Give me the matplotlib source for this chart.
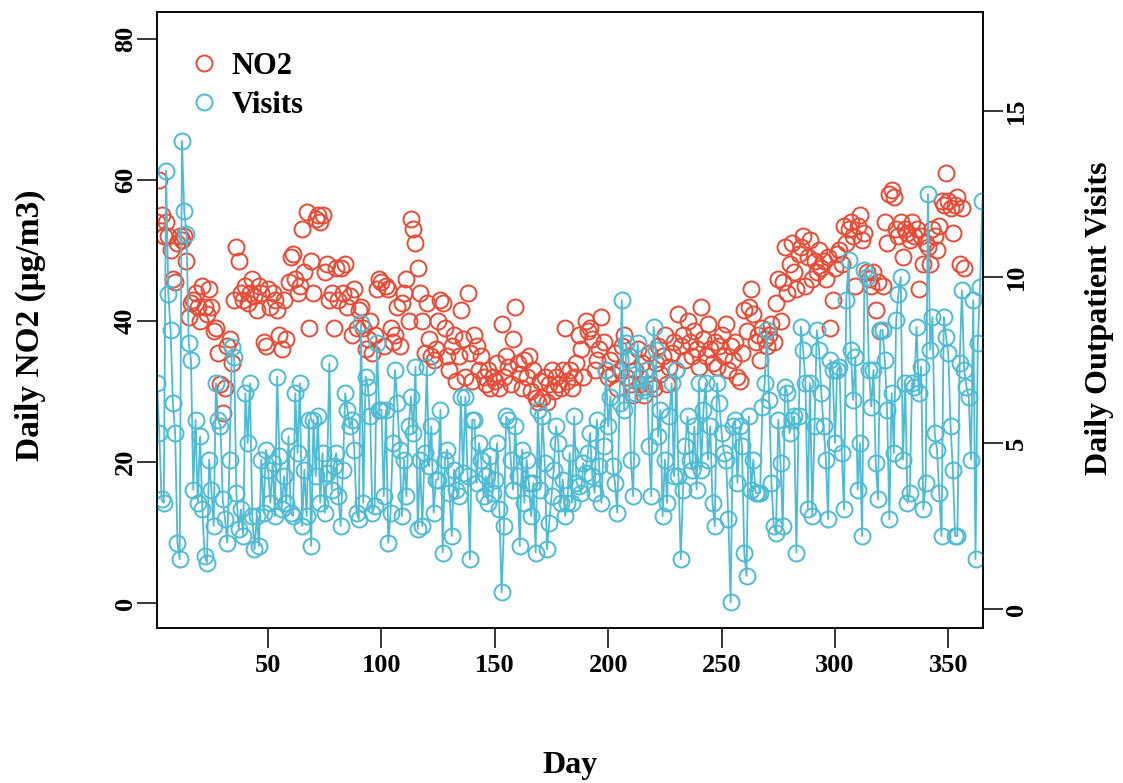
import numpy as np
import matplotlib
matplotlib.use("Agg")
import matplotlib.pyplot as plt
from matplotlib.lines import Line2D

nan = np.nan
days = np.arange(1, 366)

# daily NO2 (ug/m3); last days have no value shown
no2 = [
    54, 60, 55, 52, 54, 52, 50, 46, 45.5, 51,
    52, 51.5, 52, 48.5, 40.5, 42.5, 43, 44, 42, 40,
    45, 42, 41, 44.5, 42, 38.5, 39, 35.5, 31, 27,
    30.5, 36.5, 37.5, 34, 43, 50.5, 48.5, 44, 43, 45,
    42.5, 44, 46, 43.5, 41.5, 45, 44, 37, 36.5, 44.5,
    42, 44, 43, 41.5, 38, 36, 43, 37.5, 45.5, 49,
    49.5, 46, 44, 45, 53, 47, 55.5, 39, 48.5, 44,
    54.5, 55, 54, 55, 47, 48, 43, 44, 39, 47.5,
    43, 47.5, 44, 48, 42, 43.5, 38, 44.5, 39, 41.5,
    42, 39, 36, 37.5, 40, 35.5, 38, 44.5, 46, 45.5,
    36.5, 45, 44.5, 39, 37, 38, 42, 36.5, 42.5, 44,
    46, 40, 54.5, 53, 51, 47.5, 44, 40, 35.5, 42.5,
    37.5, 35, 34.5, 36, 40, 43, 42.5, 39, 35, 33,
    36.5, 38, 31.5, 35, 41.5, 37.5, 32, 44, 35.5, 31.5,
    38, 36.5, 33, 35, 32, 31, 33, 30.5, 32, 31.5,
    34, 30.5, 39.5, 32, 35, 33.5, 31, 37.5, 42, 34,
    32.5, 30.5, 34.5, 32, 35, 30, 33, 29, 28.5, 31.5,
    29, 32, 28.5, 31, 33, 30, 32, 31, 30.5, 33,
    39, 31.5, 33, 30.5, 32, 34, 38, 36, 32, 40,
    38.5, 39, 37.5, 33, 34.5, 36, 40.5, 37, 33, 32,
    34.5, 32.5, 35.5, 30.5, 33, 36.5, 38, 32, 35, 31,
    29.5, 33, 36, 31, 34, 29.5, 33, 35.5, 31, 30.5,
    34, 36.5, 32.5, 35, 38, 31, 33.5, 35.5, 37, 33,
    41, 36.5, 38, 34.5, 40, 37, 35, 38.5, 36, 33.5,
    42, 37.5, 35, 39.5, 36, 34, 37, 33.5, 36.5, 38,
    35, 39.5, 33, 36.5, 34.5, 37, 32, 31.5, 35.5, 41.5,
    38.5, 42, 44.5, 41, 37, 38, 34.5, 39, 37.5, 36.5,
    38, 39.5, 37, 42.5, 46, 40, 45.5, 50.5, 44, 48,
    51, 47, 44.5, 49.5, 50.5, 52, 45, 49, 51.5, 46,
    48.5, 47, 50, 47.5, 48.5, 46, 49, 39, 43, 47.5,
    49.5, 50, 48, 53.5, 51, 53, 54, 52, 45, 53.5,
    55, 51.5, 52.5, 47, 46, 45, 47, 41.5, 45.5, 38.5,
    45, 54, 51, 58, 58.5, 57.5, 53, 52, 54, 49,
    53, 52.5, 51.5, 54, 52, 53, 44.5, 52, 48, 51,
    50.5, 48, 53, 52, 50, 53.5, 57, 56.5, 61, 57,
    56, 52.5, 56.5, 57.5, 48, 56, 47.5, nan, nan, nan,
    nan, nan, nan, nan, nan,
]

# daily outpatient visits (right axis)
visits = [
    6.8, 5.3, 3.3, 3.2, 13.2, 9.5, 8.4, 6.2, 5.3, 2.0,
    1.5, 14.1, 12.0, 11.3, 8.0, 7.5, 3.6, 5.7, 3.2, 5.2,
    3.0, 1.6, 1.4, 4.5, 3.6, 2.5, 6.8, 5.7, 5.5, 3.3,
    2.7, 2.0, 4.5, 7.9, 7.6, 3.5, 2.4, 3.0, 2.2, 6.5,
    5.0, 6.8, 2.8, 1.8, 2.8, 1.9, 4.5, 2.9, 4.8, 4.2,
    3.2, 4.4, 2.8, 7.0, 4.6, 3.0, 4.0, 3.2, 5.2, 2.9,
    2.8, 6.5, 4.7, 6.8, 2.5, 4.2, 2.8, 5.7, 1.9, 5.7,
    4.0, 5.8, 3.2, 4.7, 2.9, 4.1, 7.4, 3.6, 4.3, 4.7,
    3.4, 2.5, 4.2, 6.5, 6.0, 5.5, 5.7, 4.8, 2.9, 2.7,
    8.6, 3.2, 7.0, 6.7, 5.8, 2.9, 3.1, 8.0, 6.0, 6.0,
    3.4, 6.0, 2.0, 2.9, 5.0, 7.2, 6.2, 4.8, 2.8, 4.5,
    3.4, 5.5, 6.4, 5.3, 7.3, 2.4, 4.5, 2.5, 4.7, 7.3,
    4.3, 5.5, 2.9, 3.9, 3.9, 6.0, 1.7, 4.5, 4.8, 3.5,
    2.2, 4.2, 3.6, 3.4, 6.4, 4.1, 6.4, 4.0, 1.5, 5.7,
    5.7, 3.8, 5.0, 4.5, 3.4, 4.0, 3.2, 4.6, 3.5, 3.9,
    5.0, 3.0, 0.5, 2.5, 5.8, 5.7, 4.5, 3.6, 5.5, 4.0,
    1.9, 4.8, 3.2, 4.5, 3.8, 2.8, 3.8, 1.7, 6.0, 3.6,
    5.8, 4.4, 1.8, 2.6, 3.4, 4.2, 5.5, 5.0, 3.2, 3.9,
    2.8, 3.2, 4.7, 3.2, 5.8, 3.8, 3.7, 3.5, 4.4, 4.1,
    4.7, 5.3, 4.0, 3.5, 5.7, 4.3, 3.2, 4.9, 7.2, 5.5,
    6.4, 4.3, 3.8, 2.9, 6.2, 9.3, 6.0, 8.0, 7.5, 4.5,
    3.4, 6.5, 8.0, 7.0, 6.7, 6.6, 7.2, 4.9, 3.4, 8.5,
    7.8, 5.2, 6.0, 2.8, 4.5, 3.2, 5.8, 6.8, 4.0, 7.2,
    4.0, 1.5, 3.6, 4.9, 5.8, 4.5, 4.2, 5.5, 3.6, 6.8,
    4.2, 6.0, 6.8, 4.5, 5.5, 3.2, 2.5, 6.8, 6.2, 5.3,
    4.7, 4.5, 2.7, 0.2, 5.5, 5.7, 3.8, 5.5, 4.9, 1.7,
    1.0, 5.8, 3.6, 4.5, 3.5, 3.5, 3.5, 6.1, 6.8, 8.4,
    6.3, 3.8, 2.5, 2.3, 5.7, 4.4, 2.5, 6.7, 6.5, 5.3,
    5.7, 5.8, 1.7, 5.8, 8.5, 7.8, 6.8, 3.0, 6.8, 2.8,
    5.5, 8.4, 7.8, 6.5, 5.5, 4.5, 2.7, 7.5, 7.2, 5.0,
    7.2, 7.3, 4.7, 3.0, 9.3, 10.5, 7.8, 6.3, 7.6, 3.6,
    5.0, 2.2, 10.2, 10.0, 7.2, 6.1, 7.2, 4.4, 3.3, 8.4,
    8.4, 7.5, 6.0, 2.7, 6.5, 4.7, 8.7, 9.5, 10.0, 4.5,
    6.8, 3.2, 3.5, 6.8, 6.7, 8.5, 6.5, 7.3, 3.0, 3.8,
    12.5, 7.8, 8.8, 5.3, 4.8, 3.5, 2.2, 8.8, 8.2, 7.7,
    5.5, 4.2, 2.2, 2.2, 7.4, 9.6, 7.2, 6.7, 6.4, 4.5,
    9.3, 1.5, 8.0, 9.7, 12.3,
]

red = "#E64B35"
blue = "#4DBBD5"

plt.rcParams['font.family'] = ['Liberation Serif', 'DejaVu Serif']
plt.rcParams['font.weight'] = 'bold'

fig = plt.figure(figsize=(11.23, 7.83), dpi=100)
ax = fig.add_axes([157 / 1123, 1 - 628 / 783, 826 / 1123, 616 / 783])

ax.plot(days, no2, ls='none', marker='o', ms=11.5, mfc='none', mec=red, mew=1.4)
ax.set_xlim(1, 365.3)
ax.set_ylim(-3.55, 83.8)
ax.set_xticks([50, 100, 150, 200, 250, 300, 350])
ax.set_yticks([0, 20, 40, 60, 80])
ax.set_yticklabels(['0', '20', '40', '60', '80'], rotation=90, va='center')
ax.tick_params(direction='out', length=14.5, width=1.1, labelsize=19, pad=4)
ax.tick_params(axis='y', pad=0)

ax2 = ax.twinx()
ax2.plot(days, visits, color=blue, lw=1.3, marker='o', ms=11.5, mfc='none', mec=blue, mew=1.4)
ax2.set_ylim(-0.57, 17.98)
ax2.set_yticks([0, 5, 10, 15])
ax2.set_yticklabels(['0', '5', '10', '15'], rotation=90, va='center')
ax2.tick_params(direction='out', length=14.5, width=1.1, labelsize=19, pad=1)

for a in (ax, ax2):
    for s in a.spines.values():
        s.set_linewidth(1.1)

fig.text(570 / 1123, 1 - 765 / 783, 'Day', ha='center', va='center', fontsize=23)
fig.text(30 / 1123, 1 - 325 / 783, 'Daily NO2 (\u03bcg/m3)', ha='center', va='center',
         rotation=90, fontsize=24)
fig.text(1100 / 1123, 1 - 318 / 783, 'Daily Outpatient Visits', ha='center', va='center',
         rotation=90, fontsize=23)

handles = [
    Line2D([], [], ls='none', marker='o', ms=11.5, mfc='none', mec=red, mew=1.4),
    Line2D([], [], ls='none', marker='o', ms=11.5, mfc='none', mec=blue, mew=1.4),
]
ax2.legend(handles, ['NO2', 'Visits'], loc='upper left', bbox_to_anchor=(0.02, 0.955),
           frameon=False, fontsize=22, handletextpad=0.3, labelspacing=0.33,
           handlelength=1.2, borderaxespad=0)

fig.savefig('out.png', dpi=100)
